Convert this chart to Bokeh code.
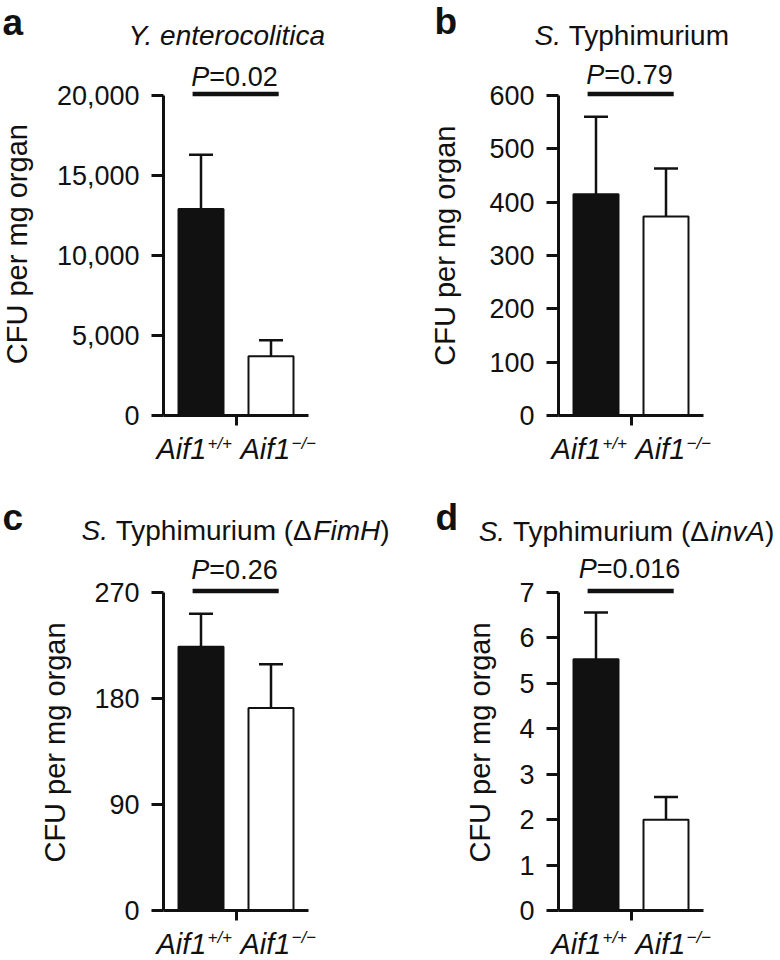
import math
from bokeh.plotting import figure
from bokeh.models import Label, FixedTicker, NumeralTickFormatter, Range1d
from bokeh.layouts import column, row
from bokeh.embed import file_html
from bokeh.resources import INLINE

# ---------------- data ----------------
bar_x = [1, 2]
bar_colors = ["#111111", "white"]
a_mean = [12900, 3700]
a_sem = [3400, 1000]
b_mean = [415, 373]
b_sem = [145, 90]
c_mean = [224, 172]
c_sem = [28, 37]
d_mean = [5.53, 2.0]
d_sem = [1.03, 0.5]
a_ticks = [0, 5000, 10000, 15000, 20000]
b_ticks = [0, 100, 200, 300, 400, 500, 600]
c_ticks = [0, 90, 180, 270]
d_ticks = [0, 1, 2, 3, 4, 5, 6, 7]
p_values = ["0.02", "0.79", "0.26", "0.016"]
panel_letters = ["a", "b", "c", "d"]
titles = [
    [("Y. enterocolitica", True)],
    [("S.", True), (" Typhimurium", False)],
    [("S.", True), (" Typhimurium (\u0394", False), ("FimH", True), (")", False)],
    [("S.", True), (" Typhimurium (\u0394", False), ("invA", True), (")", False)],
]
y_label = "CFU per mg organ"
x_names = ["Aif1", "Aif1"]
x_sups = ["+/+", "\u2212/\u2212"]

# ---------------- layout constants ----------------
FONT = "Liberation Sans"
INK = "#111111"
PPX = 70.0
FRAME_W = 145
X0 = 1 - 37.5 / PPX
MID = 0.3465          # (ascent - descent)/2 in em: baseline offset for "middle"

W = {' ': 278, 'S': 667, '.': 278, 'T': 611, 'y': 500, 'p': 556, 'h': 556,
     'i': 222, 'm': 833, 'u': 556, 'r': 333, '(': 333, ')': 333, '\u0394': 668,
     'F': 611, 'H': 722, 'n': 556, 'v': 500, 'A': 667, 'Y': 667, 'e': 556,
     't': 278, 'o': 556, 'c': 500, 'l': 222, 'a': 556, 'P': 667, '=': 584,
     'f': 278, '+': 584, '/': 278, '\u2212': 584, ',': 278}
for dch in "0123456789":
    W[dch] = 556


def text_w(s, size):
    return sum(W.get(ch, 556) for ch in s) * size / 1000.0


def mk_label(x, base_y, text, size, style="normal", align="left"):
    return Label(x=x, y=base_y - MID * size, text=text, text_font=FONT,
                 text_font_size=f"{size}px", text_font_style=style, text_align=align,
                 text_baseline="middle", text_color=INK)


def blank(left, top, w, h):
    s = figure(width=w, height=h, x_range=Range1d(left, left + w), y_range=Range1d(top + h, top),
               x_axis_location=None, y_axis_location=None, min_border=0,
               toolbar_location=None, output_backend="svg", title=None)
    s.outline_line_color = None
    s.grid.visible = False
    return s


def add_title(s, idx, cx, base):
    segs = titles[idx]
    tsize = 28
    total = sum(text_w(t, tsize) for t, _ in segs)
    x = cx - total / 2
    for t, it in segs:
        core = t.lstrip(" ")
        x += text_w(t[:len(t) - len(core)], tsize)
        s.add_layout(mk_label(x, base, core, tsize, "italic" if it else "normal"))
        x += text_w(core, tsize)


def add_xlabels(s, axis_ref, base, sup_base, sup_size):
    starts = [axis_ref - 7, axis_ref + 77]
    for k in range(2):
        s.add_layout(mk_label(starts[k], base, x_names[k], 29, "italic"))
        s.add_layout(mk_label(starts[k] + text_w(x_names[k], 29) + 1, sup_base,
                              x_sups[k], sup_size, "italic"))


def ylab_fig(left, top, w, h, base_x, cy):
    s = blank(left, top, w, h)
    s.add_layout(Label(x=base_x - MID * 29, y=cy, text=y_label, text_font=FONT,
                       text_font_size="29px", text_align="center", text_baseline="middle",
                       angle=math.pi / 2, text_color=INK))
    return s


def make_panel(idx, mean, sem, ticks, tick_fmt, fig_left, fig_w, axis_ref, fig_top,
               bottom_ref, axis_px, fig_h, p_cx, p_base):
    top = ticks[-1]
    ppy = axis_px / top
    frame_h = bottom_ref - fig_top
    left_loc = axis_ref - fig_left
    p = figure(width=fig_w, height=fig_h,
               x_range=Range1d(X0, X0 + FRAME_W / PPX),
               y_range=Range1d(0, top * frame_h / axis_px),
               output_backend="svg", toolbar_location=None, title=None,
               min_border_left=left_loc,
               min_border_right=fig_w - left_loc - FRAME_W,
               min_border_top=0,
               min_border_bottom=fig_h - frame_h)
    p.outline_line_color = None
    p.xgrid.visible = False
    p.ygrid.visible = False

    xa = p.xaxis[0]
    xa.ticker = FixedTicker(ticks=[(bar_x[0] + bar_x[1]) / 2])
    xa.major_label_text_color = None
    xa.major_tick_out = 10
    xa.major_tick_in = 0
    xa.axis_line_width = 3
    xa.major_tick_line_width = 3
    xa.minor_tick_line_color = None
    xa.axis_line_color = INK
    xa.major_tick_line_color = INK

    ya = p.yaxis[0]
    ya.ticker = FixedTicker(ticks=ticks)
    ya.bounds = (0, top)
    if tick_fmt:
        ya.formatter = NumeralTickFormatter(format="0,0")
    ya.major_tick_out = 12
    ya.major_tick_in = 0
    ya.axis_line_width = 3
    ya.major_tick_line_width = 3
    ya.minor_tick_line_color = None
    ya.axis_line_color = INK
    ya.major_tick_line_color = INK
    ya.major_label_standoff = 12
    ya.major_label_text_font = FONT
    ya.major_label_text_font_size = "27px"
    ya.major_label_text_color = INK

    p.vbar(x=bar_x, top=mean, bottom=0, width=45 / PPX, fill_color=bar_colors,
           line_color=INK, line_width=2)
    upper = [m + s for m, s in zip(mean, sem)]
    cw = 12 / PPX
    p.segment(x0=bar_x, y0=mean, x1=bar_x, y1=upper, line_color=INK, line_width=2.5)
    p.segment(x0=[x - cw for x in bar_x], y0=upper, x1=[x + cw for x in bar_x], y1=upper,
              line_color=INK, line_width=2.5)
    ys = top + 1.5 / ppy
    p.segment(x0=[bar_x[0] - 0.12], y0=[ys], x1=[bar_x[1] + 0.11], y1=[ys],
              line_color=INK, line_width=4.5)

    psize = 27
    pw = text_w("P", psize) + text_w("=" + p_values[idx], psize)
    px0 = p_cx - pw / 2

    def dx(rx):
        return X0 + (rx - axis_ref) / PPX

    def dy(ry):
        return (bottom_ref - ry) / ppy

    for rx, t, st in [(px0, "P", "italic"),
                      (px0 + text_w("P", psize), "=" + p_values[idx], "normal")]:
        p.add_layout(Label(x=dx(rx), y=dy(p_base - MID * psize), text=t, text_font=FONT,
                           text_font_size=f"{psize}px", text_font_style=st,
                           text_align="left", text_baseline="middle", text_color=INK))
    return p


# row geometry (page pixels)
S1_TOP, S1_H = 0, 58
R1_TOP, R1_H = 58, 374
S2_TOP, S2_H = 432, 120
R2_TOP, R2_H = 552, 375
S3_TOP, S3_H = 927, 33

yla = ylab_fig(0, R1_TOP, 40, R1_H, 27, 252.5)
pa = make_panel(0, a_mean, a_sem, a_ticks, True, 40, 350, 163, R1_TOP, 415, 320, R1_H, 234, 86)
ylb = ylab_fig(390, R1_TOP, 80, R1_H, 455, 254)
pb = make_panel(1, b_mean, b_sem, b_ticks, False, 470, 310, 558, R1_TOP, 415, 320, R1_H, 629, 84)
ylc = ylab_fig(0, R2_TOP, 75, R2_H, 65, 751)
pc = make_panel(2, c_mean, c_sem, c_ticks, False, 75, 315, 163, R2_TOP, 910, 318, R2_H, 234, 579)
yld = ylab_fig(390, R2_TOP, 110, R2_H, 490, 751)
pd = make_panel(3, d_mean, d_sem, d_ticks, False, 500, 280, 558, R2_TOP, 910, 318, R2_H, 629, 578)

s1 = blank(0, S1_TOP, 780, S1_H)
s1.add_layout(mk_label(2, 34.5, panel_letters[0], 37, "bold"))
s1.add_layout(mk_label(434, 34, panel_letters[1], 37, "bold"))
add_title(s1, 0, 227.5, 45)
add_title(s1, 1, 632, 45)

s2 = blank(0, S2_TOP, 780, S2_H)
add_xlabels(s2, 163, 459, 448.5, 17)
add_xlabels(s2, 558, 459, 448.5, 17)
s2.add_layout(mk_label(2, 530, panel_letters[2], 37, "bold"))
s2.add_layout(mk_label(435, 530, panel_letters[3], 37, "bold"))
add_title(s2, 2, 235, 540)
add_title(s2, 3, 626, 541)

s3 = blank(0, S3_TOP, 780, S3_H)
add_xlabels(s3, 163, 953.5, 943, 17)
add_xlabels(s3, 558, 953.5, 943, 17)

layout = column(s1, row(yla, pa, ylb, pb), s2, row(ylc, pc, yld, pd), s3)
open("out.html", "w").write(file_html(layout, INLINE))
